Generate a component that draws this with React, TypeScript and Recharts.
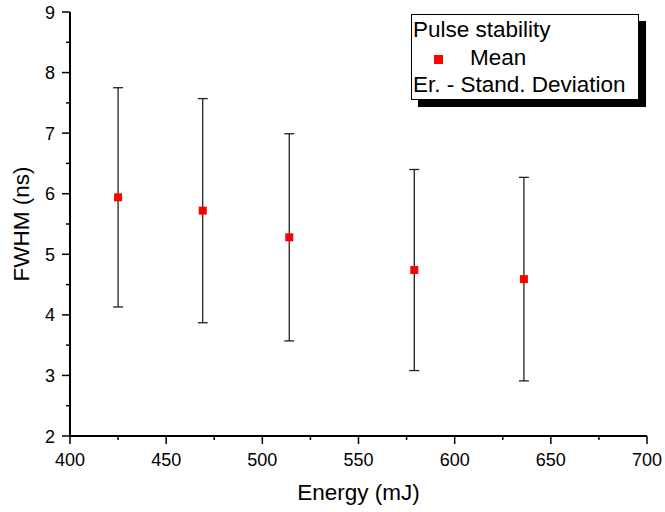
import { ScatterChart, Scatter, XAxis, YAxis, ZAxis, ErrorBar } from 'recharts';

const energy = [425, 469, 514, 579, 636];
const meanFwhm = [5.94, 5.72, 5.28, 4.74, 4.59];
const stdDev = [1.81, 1.85, 1.71, 1.66, 1.68];

const xTicks = [400, 425, 450, 475, 500, 525, 550, 575, 600, 625, 650, 675, 700];
const yTicks = [2, 2.5, 3, 3.5, 4, 4.5, 5, 5.5, 6, 6.5, 7, 7.5, 8, 8.5, 9];

const data = energy.map((e, i) => ({ energy: e, mean: meanFwhm[i], sd: stdDev[i] }));

const FONT = '"Liberation Sans", Arial, sans-serif';

function XTick(props: any) {
  const { x, y, payload } = props;
  const major = payload.value % 50 === 0;
  return (
    <g>
      <line x1={x} x2={x} y1={y} y2={y + (major ? 8 : 4)} stroke="#000" strokeWidth={1.5} />
      {major && (
        <text x={x} y={y + 30} textAnchor="middle" fontSize={18} fontFamily={FONT} fill="#000">
          {payload.value}
        </text>
      )}
    </g>
  );
}

function YTick(props: any) {
  const { x, y, payload } = props;
  const major = Number.isInteger(payload.value);
  return (
    <g>
      <line x1={x - (major ? 8 : 4)} x2={x} y1={y} y2={y} stroke="#000" strokeWidth={1.5} />
      {major && (
        <text x={x - 15} y={y + 6.5} textAnchor="end" fontSize={18} fontFamily={FONT} fill="#000">
          {payload.value}
        </text>
      )}
    </g>
  );
}

export default function App() {
  return (
    <div style={{ position: 'absolute', left: 0, top: 0, width: 665, height: 512, background: '#fff' }}>
      <ScatterChart width={665} height={512} margin={{ top: 12, right: 18, bottom: 0, left: 0 }}>
        <XAxis
          type="number"
          dataKey="energy"
          domain={[400, 700]}
          ticks={xTicks}
          interval={0}
          height={76}
          tickSize={0}
          tickMargin={0}
          tickLine={false}
          tick={<XTick />}
          axisLine={{ stroke: '#000', strokeWidth: 2 }}
          label={({ viewBox }: any) => (
            <text
              x={viewBox.x + viewBox.width / 2}
              y={500}
              textAnchor="middle"
              fontSize={22.5}
              fontFamily={FONT}
              fill="#000"
            >
              Energy (mJ)
            </text>
          )}
        />
        <YAxis
          type="number"
          dataKey="mean"
          domain={[2, 9]}
          ticks={yTicks}
          interval={0}
          width={70}
          tickSize={0}
          tickMargin={0}
          tickLine={false}
          tick={<YTick />}
          axisLine={{ stroke: '#000', strokeWidth: 2 }}
          label={({ viewBox }: any) => {
            const cy = viewBox.y + viewBox.height / 2;
            return (
              <text
                x={29}
                y={cy}
                transform={`rotate(-90, 29, ${cy})`}
                textAnchor="middle"
                fontSize={22.5}
                fontFamily={FONT}
                fill="#000"
              >
                FWHM (ns)
              </text>
            );
          }}
        />
        <ZAxis range={[81, 81]} />
        <Scatter data={data} fill="#ff0000" shape="square" isAnimationActive={false}>
          <ErrorBar dataKey="sd" direction="y" width={5} stroke="#222" strokeWidth={1.3} isAnimationActive={false} />
        </Scatter>
      </ScatterChart>
      <div
        style={{
          position: 'absolute',
          left: 411,
          top: 14,
          width: 225,
          height: 83,
          border: '1px solid #000',
          background: '#fff',
          boxShadow: '7px 7px 0 #000',
          fontFamily: FONT,
          fontSize: 22.5,
          lineHeight: '27.5px',
          color: '#000',
          paddingTop: 1,
          paddingLeft: 1,
          boxSizing: 'content-box',
        }}
      >
        <div style={{ whiteSpace: 'nowrap' }}>Pulse stability</div>
        <div style={{ whiteSpace: 'nowrap', position: 'relative', paddingLeft: 57 }}>
          <span
            style={{ position: 'absolute', left: 21, top: 11, width: 9, height: 9, background: '#ff0000' }}
          />
          Mean
        </div>
        <div style={{ whiteSpace: 'nowrap' }}>Er. - Stand. Deviation</div>
      </div>
    </div>
  );
}
